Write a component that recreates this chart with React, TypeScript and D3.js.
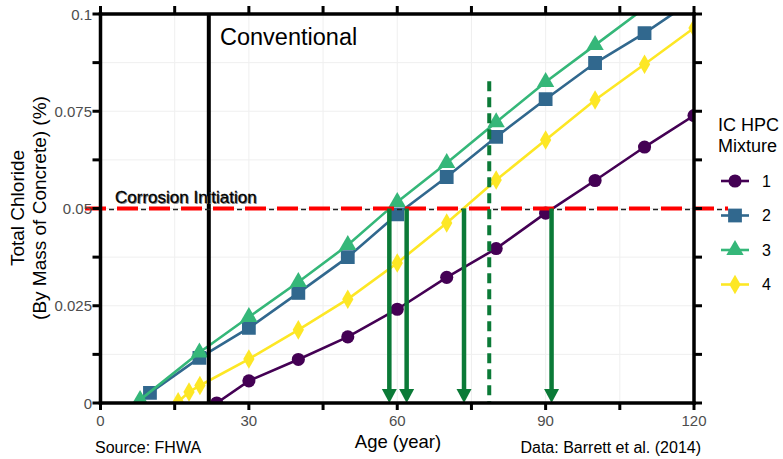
import React from "react";
import * as d3 from "d3";

const seriesNames = ["1", "2", "3", "4"];
const seriesColors = ["#440154", "#31688e", "#35b779", "#fde725"];
const seriesShapes = ["circle", "square", "triangle", "diamond"];

const years1 = [23.5, 30, 40, 50, 60, 70, 80, 90, 100, 110, 120];
const mix1 = [0, 0.0057, 0.0112, 0.017, 0.0241, 0.0323, 0.0397, 0.0488, 0.0572, 0.0658, 0.0739];
const years2 = [10, 20, 30, 40, 50, 60, 70, 80, 90, 100, 110, 120];
const mix2 = [0.0026, 0.0116, 0.0193, 0.0283, 0.0375, 0.0485, 0.0581, 0.0684, 0.0781, 0.0874, 0.0951, 0.1037];
const years3 = [8, 20, 30, 40, 50, 60, 70, 80, 90, 100, 110, 120];
const mix3 = [0.0008, 0.013, 0.0221, 0.0311, 0.0406, 0.0517, 0.0617, 0.0722, 0.0825, 0.092, 0.1015, 0.111];
const years4 = [15.7, 17.9, 20.1, 30, 40, 50, 60, 70, 80, 90, 100, 110, 120];
const mix4 = [0.0003, 0.0028, 0.0045, 0.0113, 0.0188, 0.0267, 0.036, 0.0463, 0.0573, 0.0676, 0.0779, 0.0871, 0.0964];

const xTicks = [0, 30, 60, 90, 120];
const xTickLabels = ["0", "30", "60", "90", "120"];
const xMinorTicks = [15, 45, 75, 105];
const yTicks = [0, 0.025, 0.05, 0.075, 0.1];
const yTickLabels = ["0", "0.025", "0.05", "0.075", "0.1"];
const yMinorTicks = [0.0125, 0.0375, 0.0625, 0.0875];

const conventionalYear = 21.9;
const thresholdValue = 0.05;
const arrowYears = [58.4, 61.9, 73.5, 91.2];
const dashedGreenYear = 78.6;
const dashedGreenTop = 0.0827;

const allYears = [years1, years2, years3, years4];
const allValues = [mix1, mix2, mix3, mix4];

const W = 783;
const H = 459;
const x = d3.scaleLinear().domain([0, 120]).range([100.5, 694]);
const y = d3.scaleLinear().domain([0, 0.1]).range([403, 14]);

const FONT = "Liberation Sans, Arial, sans-serif";
const GREEN = "#0b7a37";

function symbolPath(shape: string, scale = 1): string {
  if (shape === "circle") return d3.symbol(d3.symbolCircle, 135 * scale)()!;
  if (shape === "square") return d3.symbol(d3.symbolSquare, 190 * scale)()!;
  if (shape === "triangle") return d3.symbol(d3.symbolTriangle, 130 * scale)()!;
  return d3.symbol(d3.symbolDiamond, 110 * scale)()!;
}

export default function App() {
  const line = d3
    .line<[number, number]>()
    .x((d) => x(d[0]))
    .y((d) => y(d[1]));

  const [x0, x1] = x.range();
  const [yb, yt] = y.range();
  const allX = [...xTicks, ...xMinorTicks];
  const allY = [...yTicks, ...yMinorTicks];

  return (
    <svg
      width={W}
      height={H}
      style={{ position: "absolute", left: 0, top: 0, background: "#fff" }}
      fontFamily={FONT}
    >
      <defs>
        <clipPath id="panel">
          <rect x={x0} y={yt} width={x1 - x0} height={yb - yt} />
        </clipPath>
      </defs>
      <rect width={W} height={H} fill="#fff" />
      {/* grid */}
      {allX.map((t) => (
        <line key={"gx" + t} x1={x(t)} x2={x(t)} y1={yt} y2={yb} stroke="#efefef" strokeWidth={1} />
      ))}
      {allY.map((t) => (
        <line key={"gy" + t} x1={x0} x2={x1} y1={y(t)} y2={y(t)} stroke="#efefef" strokeWidth={1} />
      ))}

      {/* series */}
      <g clipPath="url(#panel)">
        {allYears.map((yrs, i) => {
          const pts = yrs.map((v, j) => [v, allValues[i][j]] as [number, number]);
          return (
            <g key={"s" + i}>
              <path d={line(pts)!} fill="none" stroke={seriesColors[i]} strokeWidth={2.6} />
              {pts.map((p, j) => (
                <path
                  key={j}
                  d={symbolPath(seriesShapes[i])}
                  transform={`translate(${x(p[0])},${y(p[1])})`}
                  fill={seriesColors[i]}
                />
              ))}
            </g>
          );
        })}
      </g>

      {/* conventional line */}
      <line x1={x(conventionalYear)} x2={x(conventionalYear)} y1={yt} y2={yb} stroke="#000" strokeWidth={4} />
      <text x={220} y={45} fontSize={23.5} fill="#000">Conventional</text>

      {/* corrosion initiation */}
      <line x1={85} x2={728} y1={y(thresholdValue) + 1} y2={y(thresholdValue) + 1} stroke="#222" strokeWidth={1.5} strokeDasharray="5 27" strokeDashoffset={-24} />
      <line x1={85} x2={728} y1={y(thresholdValue)} y2={y(thresholdValue)} stroke="#f00" strokeWidth={4} strokeDasharray="21 11" />
      <text x={116} y={204} fontSize={17} fill="#888">Corrosion Initiation</text>
      <text x={115} y={203} fontSize={17} fill="#000" stroke="#000" strokeWidth={0.3}>Corrosion Initiation</text>

      {/* arrows */}
      {arrowYears.map((a) => {
        const cx = x(a);
        const tip = yb;
        return (
          <g key={"a" + a}>
            <line x1={cx} x2={cx} y1={y(thresholdValue)} y2={tip - 12} stroke={GREEN} strokeWidth={4.5} />
            <path d={`M${cx - 7.5},${tip - 14} L${cx + 7.5},${tip - 14} L${cx},${tip} Z`} fill={GREEN} />
          </g>
        );
      })}
      <line
        x1={x(dashedGreenYear)}
        x2={x(dashedGreenYear)}
        y1={y(dashedGreenTop)}
        y2={yb}
        stroke={GREEN}
        strokeWidth={4}
        strokeDasharray="10 6"
      />

      {/* axes box */}
      <g stroke="#000" strokeWidth={3.5} strokeLinecap="square">
        <line x1={x0} x2={x1} y1={yb} y2={yb} />
        <line x1={x0} x2={x1} y1={yt} y2={yt} />
        <line x1={x0} x2={x0} y1={yt} y2={yb} />
        <line x1={x1} x2={x1} y1={yt} y2={yb} />
      </g>
      <g stroke="#000" strokeWidth={3}>
        {allX.map((t) => (
          <g key={"tx" + t}>
            <line x1={x(t)} x2={x(t)} y1={yb} y2={yb + 7} />
            <line x1={x(t)} x2={x(t)} y1={yt} y2={yt - 8} />
          </g>
        ))}
        {allY.map((t) => (
          <g key={"ty" + t}>
            <line x1={x0} x2={x0 - 8} y1={y(t)} y2={y(t)} />
            <line x1={x1} x2={x1 + 8} y1={y(t)} y2={y(t)} />
          </g>
        ))}
      </g>

      {/* tick labels */}
      {xTicks.map((t, i) => (
        <text key={"lx" + t} x={x(t)} y={426} fontSize={15} fill="#4d4d4d" textAnchor="middle">
          {xTickLabels[i]}
        </text>
      ))}
      {yTicks.map((t, i) => (
        <text key={"ly" + t} x={92} y={y(t) + 5.5} fontSize={15} fill="#4d4d4d" textAnchor="end">
          {yTickLabels[i]}
        </text>
      ))}

      {/* axis titles */}
      <text x={398} y={447.5} fontSize={18.5} textAnchor="middle" fill="#000">Age (year)</text>
      <g transform="translate(24,208) rotate(-90)">
        <text x={0} y={0} fontSize={19} textAnchor="middle" fill="#000">Total Chloride</text>
        <text x={0} y={22} fontSize={19} textAnchor="middle" fill="#000">(By Mass of Concrete) (%)</text>
      </g>
      <text x={95} y={453} fontSize={16} fill="#000">Source: FHWA</text>
      <text x={701} y={453} fontSize={16} fill="#000" textAnchor="end">Data: Barrett et al. (2014)</text>

      {/* legend */}
      <text x={718} y={131} fontSize={18} fill="#000">IC HPC</text>
      <text x={718} y={152} fontSize={18} fill="#000">Mixture</text>
      {seriesNames.map((n, i) => {
        const cy = 181 + i * 34.5;
        return (
          <g key={"lg" + n}>
            <line x1={721} x2={749} y1={cy} y2={cy} stroke={seriesColors[i]} strokeWidth={2.6} />
            <path d={symbolPath(seriesShapes[i])} transform={`translate(735,${cy})`} fill={seriesColors[i]} />
            <text x={762} y={cy + 5.5} fontSize={16} fill="#000">{n}</text>
          </g>
        );
      })}
    </svg>
  );
}
